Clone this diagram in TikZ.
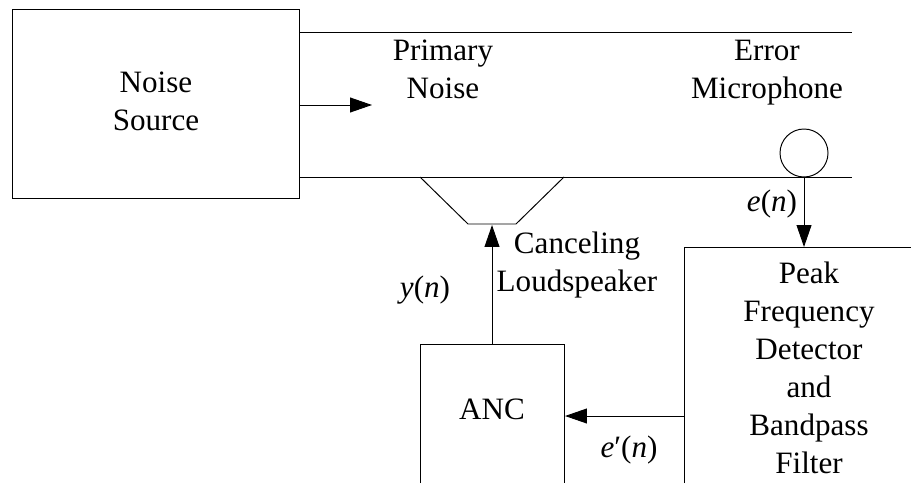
\documentclass[tikz,border=0pt]{standalone}
\usepackage{fontspec}
\setmainfont{Liberation Serif}
\usepackage{tikz}
\usetikzlibrary{arrows.meta}
\tikzset{
    label text/.style={font=\fontsize{17.7}{21.7}\selectfont, align=center},
    flow/.style={-{Triangle[length=12.5pt,width=8.5pt]}}
}

\begin{document}
\begin{tikzpicture}[x=0.02cm,y=-0.02cm,line width=0.55pt]
    \useasboundingbox (0,0) rectangle (911,483);

    % Draw the blocks
    \coordinate (NoiseTL) at (12,9);
    \coordinate (NoiseBR) at (299,198);
    \draw (NoiseTL) rectangle (NoiseBR);
    \draw (684,483) -- (684,247) -- (911,247);
    \draw (420,483) -- (420,344) -- (564,344) -- (564,483);

    % Duct walls
    \draw (299,32) -- (852,32);
    \draw (299,177) -- (852,177);

    % Loudspeaker cone
    \coordinate (SpkL) at (468,224);
    \coordinate (SpkR) at (516,224);
    \draw (420,177) -- (SpkL) -- (SpkR) -- (564,177);

    % Error microphone
    \node[draw, circle, minimum size=48*0.02cm, inner sep=0pt] (Mic) at (804,153) {};

    % Coordinates for the free ends
    \coordinate (NoiseOut) at (299,105);
    \coordinate (NoiseTip) at (372,105);
    \coordinate (AncTop) at (492,344);
    \coordinate (SpkIn) at (492,225);
    \coordinate (DetTop) at (804,247);
    \coordinate (DetLeft) at (684,416);
    \coordinate (AncRight) at (565,416);

    % Signal paths
    \draw[flow] (NoiseOut) -- (NoiseTip);
    \draw[flow] (Mic.south) -- (DetTop);
    \draw[flow] (AncTop) -- (SpkIn);
    \draw[flow] (DetLeft) -- (AncRight);

    % Labels
    \node[label text] (NoiseLabel) at (156,101.5) {Noise\\Source};
    \node[label text] (PrimaryLabel) at (443,69) {Primary\\Noise};
    \node[label text] (ErrorLabel) at (767,73) {Error\\Microphone};
    \node[label text] (SpeakerLabel) at (577,265) {Canceling\\Loudspeaker};
    \node[label text] (AncLabel) at (492,409) {ANC};
    \node[label text] (DetLabel) at (809,368) {Peak\\Frequency\\Detector\\and\\Bandpass\\Filter};
    \node[label text] (EnLabel) at (772,204) {\textit{e}(\textit{n})};
    \node[label text] (YnLabel) at (425,290) {\textit{y}(\textit{n})};
    \node[label text] (EpLabel) at (629,450) {\textit{e}′(\textit{n})};
\end{tikzpicture}
\end{document}
